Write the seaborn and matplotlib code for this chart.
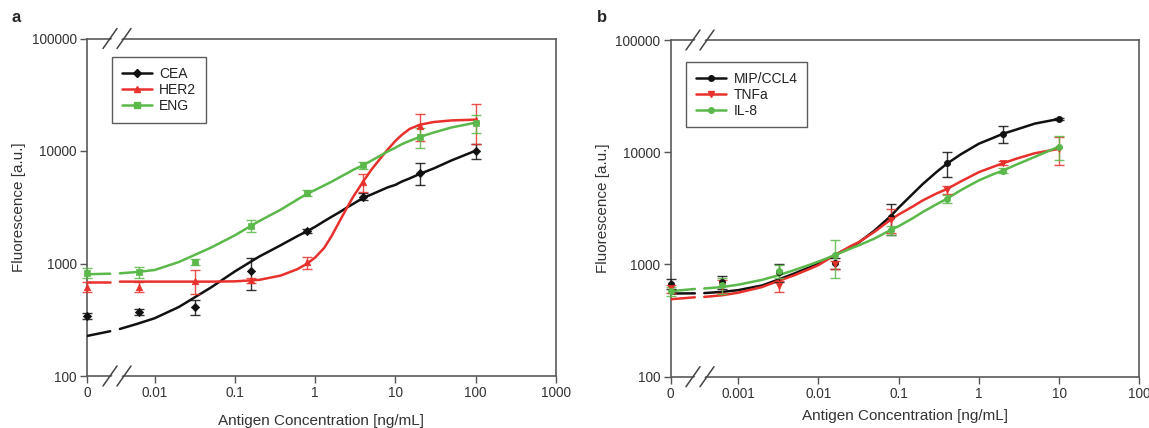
import numpy as np
import pandas as pd
import seaborn as sns
import matplotlib
matplotlib.use('Agg')
import matplotlib.pyplot as plt
from matplotlib.lines import Line2D
from matplotlib.patches import Polygon

sns.set_style('ticks')
plt.rcParams['font.family'] = ['Liberation Sans', 'DejaVu Sans']

# ---- panel a: measured points (5-fold dilutions, 0 = blank) ----
conc_a = [0, 0.0064, 0.032, 0.16, 0.8, 4, 20, 100]
cea = [340, 372, 413, 855, 1945, 3930, 6410, 10070]
cea_err = [20, 25, 65, 270, 80, 280, 1400, 1500]
her2 = [620, 620, 705, 710, 1024, 5300, 16700, 18900]
her2_err = [60, 60, 170, 40, 130, 1000, 4500, 7300]
eng = [824, 840, 1037, 2170, 4210, 7450, 13300, 17700]
eng_err = [80, 90, 60, 250, 250, 500, 2700, 3300]

# panel a: fitted curves
fit_x_a = [0.0037, 0.006, 0.01, 0.02, 0.05, 0.1, 0.2, 0.37, 0.6, 0.8, 1, 1.3, 1.6,
           2, 2.5, 3, 4, 5, 6.5, 8, 10, 12, 15, 20, 30, 50, 100]
fit_cea = [262, 290, 326, 410, 610, 850, 1150, 1450, 1750, 1945, 2120, 2380, 2600,
           2850, 3150, 3400, 3850, 4100, 4450, 4750, 5000, 5350, 5700, 6250, 7000, 8250, 10070]
fit_her2 = [690, 690, 690, 690, 690, 694, 715, 780, 890, 1000, 1130, 1380, 1750,
            2350, 3150, 3950, 5400, 6800, 8600, 10300, 12300, 13900, 15700, 17100, 18100, 18700, 19000]
fit_eng = [818, 840, 875, 1030, 1380, 1780, 2380, 3000, 3700, 4180, 4500, 4950, 5330,
           5820, 6340, 6820, 7500, 8200, 9100, 9900, 10700, 11500, 12300, 13300, 14600, 16200, 17860]
# short piece before the axis break
stub_x_a = [0, 0.0028]
stub_cea = [227, 250]
stub_her2 = [689, 689]
stub_eng = [802, 812]

# ---- panel b ----
conc_b = [0, 0.00064, 0.0032, 0.016, 0.08, 0.4, 2, 10]
mip = [676, 700, 850, 1029, 2640, 7980, 14600, 19800]
mip_err = [70, 90, 150, 120, 800, 2000, 2400, 300]
tnf = [611, 640, 640, 1000, 2510, 4630, 7980, 10720]
tnf_err = [50, 80, 70, 80, 600, 350, 300, 3000]
il8 = [578, 650, 875, 1208, 2015, 3850, 6870, 11240]
il8_err = [50, 100, 110, 450, 200, 350, 300, 2700]

fit_x_b = [0.00038, 0.00064, 0.001, 0.002, 0.0032, 0.005, 0.008, 0.01, 0.016, 0.025,
           0.032, 0.05, 0.08, 0.1, 0.15, 0.2, 0.3, 0.4, 0.6, 1, 1.5, 2, 3, 5, 10]
fit_mip = [556, 570, 590, 650, 734, 830, 950, 1018, 1208, 1430, 1570, 2000, 2700, 3200,
           4250, 5200, 6700, 7900, 9600, 11900, 13400, 14600, 16000, 18000, 19800]
fit_tnf = [514, 532, 560, 630, 714, 800, 920, 985, 1208, 1450, 1580, 1950, 2510, 2780,
           3280, 3720, 4300, 4700, 5500, 6640, 7400, 7980, 8800, 9800, 10720]
fit_il8 = [611, 630, 660, 730, 802, 890, 1000, 1060, 1208, 1380, 1480, 1700, 2030, 2190,
           2580, 2930, 3450, 3850, 4600, 5610, 6350, 6870, 7800, 9100, 11240]
stub_x_b = [0, 0.00029]
stub_mip = [551, 553]
stub_tnf = [490, 510]
stub_il8 = [578, 605]

BLACK = '#111111'
RED = '#e8312c'
GREEN = '#5bb84a'

fig = plt.figure(figsize=(11.49, 4.28), dpi=100)
ax_a = fig.add_axes([87 / 1149, 52 / 428, 469 / 1149, 337.5 / 428])
ax_b = fig.add_axes([670.7 / 1149, 51.3 / 428, 468.6 / 1149, 336.7 / 428])


def zero_to(xs, zero_pos):
    return [zero_pos if v == 0 else v for v in xs]


def draw_series(ax, conc, vals, err, fit_x, fit_y, stub_x, stub_y, zero_pos, color, marker, ms):
    x = zero_to(conc, zero_pos)
    sx = zero_to(stub_x, zero_pos)
    sns.lineplot(x=sx, y=stub_y, ax=ax, color=color, lw=1.8, estimator=None, sort=False, zorder=3)
    sns.lineplot(x=fit_x, y=fit_y, ax=ax, color=color, lw=1.8, estimator=None, sort=False, zorder=3)
    ax.errorbar(x, vals, yerr=err, fmt='none', ecolor=color, elinewidth=1, capsize=3.5,
                capthick=1, alpha=0.85, zorder=4, clip_on=False)
    sns.scatterplot(x=x, y=vals, ax=ax, color=color, marker=marker, s=ms, edgecolor=color,
                    linewidth=0.5, zorder=5, clip_on=False, legend=False)


def axis_break(ax, xfrac):
    pos = ax.get_position()
    wpx = pos.width * 1149
    hpx = pos.height * 428
    for yfrac in (0.0, 1.0):
        dx = lambda p: p / wpx
        dy = lambda p: p / hpx
        pts = [(xfrac + dx(-12), yfrac + dy(-10)), (xfrac + dx(2), yfrac + dy(10)),
               (xfrac + dx(12), yfrac + dy(10)), (xfrac + dx(-2), yfrac + dy(-10))]
        ax.add_patch(Polygon(pts, closed=True, facecolor='white', edgecolor='none',
                             transform=ax.transAxes, clip_on=False, zorder=6))
        for off in (-7, 7):
            ax.plot([xfrac + dx(off - 7), xfrac + dx(off + 7)],
                    [yfrac + dy(-10), yfrac + dy(10)], color='#444444', lw=1.1,
                    transform=ax.transAxes, clip_on=False, zorder=7)


def style_axes(ax, zero_pos, xmax, ticks, labels, break_frac, xpad):
    ax.set_xscale('log')
    ax.set_yscale('log')
    ax.set_xlim(zero_pos, xmax)
    ax.set_ylim(100, 100000)
    ax.set_xticks(ticks)
    ax.set_xticklabels(labels)
    ax.set_yticks([100, 1000, 10000, 100000])
    ax.set_yticklabels(['100', '1000', '10000', '100000'])
    ax.minorticks_off()
    ax.tick_params(axis='both', direction='out', length=5, width=1, color='#555555',
                   labelsize=9.8, labelcolor='#333333', pad=2.5)
    for sp in ax.spines.values():
        sp.set_color('#5a5a5a')
        sp.set_linewidth(1.2)
    ax.set_xlabel('Antigen Concentration [ng/mL]', fontsize=11, color='#333333', labelpad=xpad)
    ax.set_ylabel('Fluorescence [a.u.]', fontsize=11, color='#333333', labelpad=4)
    axis_break(ax, break_frac)


# panel a
zero_a = 0.00144
draw_series(ax_a, conc_a, cea, cea_err, fit_x_a, fit_cea, stub_x_a, stub_cea, zero_a, BLACK, 'D', 18)
draw_series(ax_a, conc_a, her2, her2_err, fit_x_a, fit_her2, stub_x_a, stub_her2, zero_a, RED, '^', 22)
draw_series(ax_a, conc_a, eng, eng_err, fit_x_a, fit_eng, stub_x_a, stub_eng, zero_a, GREEN, 's', 16)
style_axes(ax_a, zero_a, 1000, [zero_a, 0.01, 0.1, 1, 10, 100, 1000],
           ['0', '0.01', '0.1', '1', '10', '100', '1000'], (117 - 87) / 469, 9.5)

# panel b
zero_b = 0.000145
draw_series(ax_b, conc_b, mip, mip_err, fit_x_b, fit_mip, stub_x_b, stub_mip, zero_b, BLACK, 'o', 20)
draw_series(ax_b, conc_b, tnf, tnf_err, fit_x_b, fit_tnf, stub_x_b, stub_tnf, zero_b, RED, 'v', 20)
draw_series(ax_b, conc_b, il8, il8_err, fit_x_b, fit_il8, stub_x_b, stub_il8, zero_b, GREEN, 'o', 20)
style_axes(ax_b, zero_b, 100, [zero_b, 0.001, 0.01, 0.1, 1, 10, 100],
           ['0', '0.001', '0.01', '0.1', '1', '10', '100'], (700 - 670.7) / 468.6, 6)


def add_legend(ax, names, colors, markers, anchor):
    handles = [Line2D([], [], color=c, marker=m, markersize=4, lw=1.8) for c, m in zip(colors, markers)]
    leg = ax.legend(handles, names, loc='upper left', bbox_to_anchor=anchor, fontsize=10,
                    frameon=True, fancybox=False, handlelength=2.2, handletextpad=0.5,
                    labelspacing=0.15, borderpad=0.7, borderaxespad=0)
    leg.get_frame().set_edgecolor('#333333')
    leg.get_frame().set_linewidth(1.0)
    for t in leg.get_texts():
        t.set_color('#222222')


add_legend(ax_a, ['CEA', 'HER2', 'ENG'], [BLACK, RED, GREEN], ['D', '^', 's'], (0.053, 0.945))
add_legend(ax_b, ['MIP/CCL4', 'TNFa', 'IL-8'], [BLACK, RED, GREEN], ['o', 'v', 'o'], (0.033, 0.935))

fig.text(12 / 1149, 1 - 18 / 428, 'a', fontsize=12, fontweight='bold', va='center')
fig.text(597 / 1149, 1 - 18 / 428, 'b', fontsize=12, fontweight='bold', va='center')

fig.savefig('out.png', dpi=100)
